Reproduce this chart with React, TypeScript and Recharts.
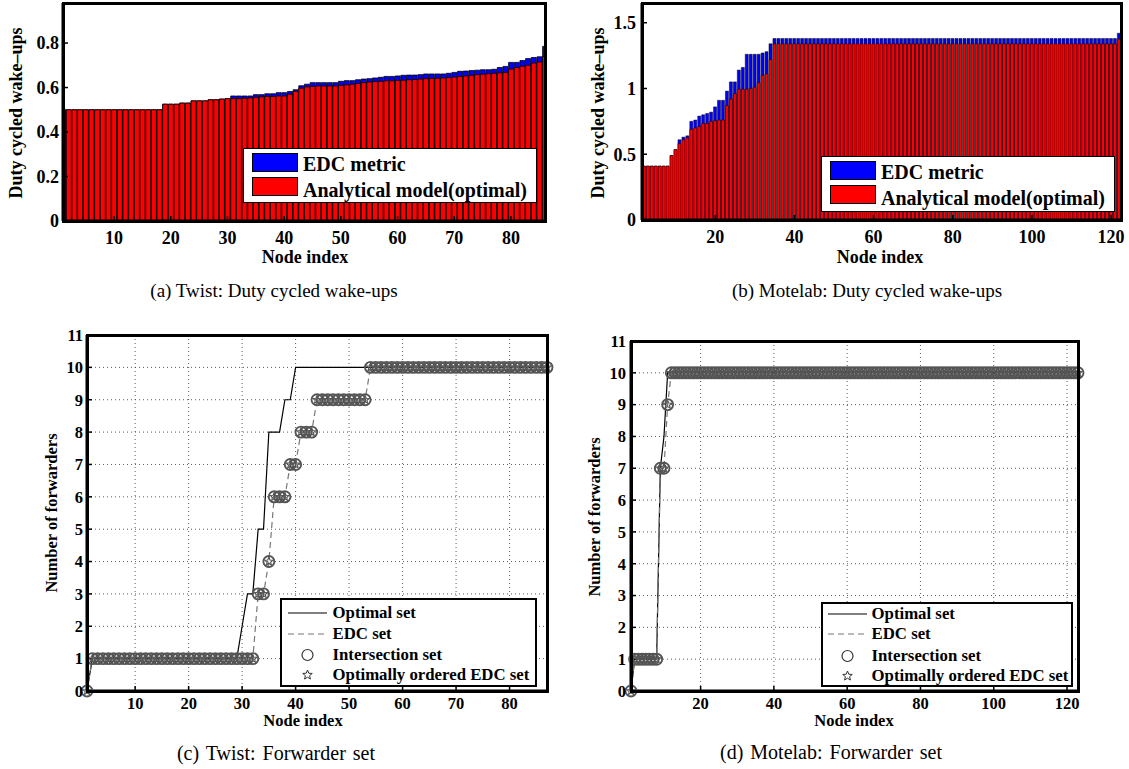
import React from 'react';
import { BarChart, Bar, XAxis, YAxis, LineChart, Line, CartesianGrid } from 'recharts';

const SERIF = '"Liberation Serif", "Times New Roman", Times, serif';

// ---------- (a) Twist: duty cycled wake-ups (node index 1..86) ----------
const twistNodes = Array.from({ length: 86 }, (_, i) => i + 1);
const twistOptWake = [
  0.5, 0.5, 0.5, 0.5, 0.5, 0.5, 0.5, 0.5, 0.5, 0.5, 0.5, 0.5, 0.5, 0.5, 0.5, 0.5, 0.5, 0.5,
  0.525, 0.525, 0.525, 0.53, 0.53, 0.54, 0.54, 0.54, 0.545, 0.545,
  0.548, 0.55, 0.55, 0.55, 0.552, 0.553, 0.556, 0.558, 0.56, 0.56,
  0.562, 0.562, 0.57, 0.583, 0.597, 0.603, 0.605, 0.607, 0.607, 0.607,
  0.607, 0.61, 0.612, 0.615, 0.618, 0.622, 0.625, 0.627, 0.628, 0.63,
  0.63, 0.632, 0.633, 0.635, 0.636, 0.638, 0.64, 0.641, 0.642, 0.643,
  0.645, 0.647, 0.65, 0.652, 0.655, 0.658, 0.66, 0.662, 0.664, 0.666,
  0.668, 0.683, 0.69, 0.696, 0.7, 0.71, 0.715, 0.74,
];
const twistEdcWake = [
  0.5, 0.5, 0.5, 0.5, 0.5, 0.5, 0.5, 0.5, 0.5, 0.5, 0.5, 0.5, 0.5, 0.5, 0.5, 0.5, 0.5, 0.5,
  0.525, 0.525, 0.525, 0.53, 0.53, 0.54, 0.54, 0.54, 0.545, 0.545,
  0.548, 0.55, 0.562, 0.562, 0.562, 0.562, 0.568, 0.568, 0.572, 0.572,
  0.577, 0.577, 0.582, 0.59, 0.608, 0.615, 0.622, 0.622, 0.622, 0.622,
  0.622, 0.628, 0.631, 0.631, 0.635, 0.638, 0.64, 0.643, 0.646, 0.65,
  0.65, 0.652, 0.655, 0.656, 0.656, 0.658, 0.661, 0.661, 0.661, 0.661,
  0.664, 0.668, 0.673, 0.674, 0.676, 0.678, 0.68, 0.68, 0.682, 0.69,
  0.695, 0.713, 0.713, 0.721, 0.73, 0.735, 0.738, 0.785,
];
const twistWakeXTicks = [10, 20, 30, 40, 50, 60, 70, 80];
const twistWakeYTicks = [0, 0.2, 0.4, 0.6, 0.8];

// ---------- (b) Motelab: duty cycled wake-ups (node index 2..122) ----------
const motelabNodes = Array.from({ length: 121 }, (_, i) => i + 2);
const motelabOptWake = [
  0.41, 0.41, 0.41, 0.41, 0.41, 0.41, 0.41,
  0.49, 0.535, 0.58, 0.61, 0.625, 0.69, 0.7, 0.71, 0.735, 0.735,
  0.75, 0.755, 0.76, 0.76, 0.87, 0.92, 0.96, 0.995, 0.995, 0.995,
  1.0, 1.01, 1.045, 1.1, 1.11, 1.22,
  1.34, 1.34, 1.34, 1.34, 1.34, 1.34, 1.34, 1.34, 1.34, 1.34,
  1.34, 1.34, 1.34, 1.34, 1.34, 1.34, 1.34, 1.34, 1.34, 1.34,
  1.34, 1.34, 1.34, 1.34, 1.34, 1.34, 1.34, 1.34, 1.34, 1.34,
  1.34, 1.34, 1.34, 1.34, 1.34, 1.34, 1.34, 1.34, 1.34, 1.34,
  1.34, 1.34, 1.34, 1.34, 1.34, 1.34, 1.34, 1.34, 1.34, 1.34,
  1.34, 1.34, 1.34, 1.34, 1.34, 1.34, 1.34, 1.34, 1.34, 1.34,
  1.34, 1.34, 1.34, 1.34, 1.34, 1.34, 1.34, 1.34, 1.34, 1.34,
  1.34, 1.34, 1.34, 1.34, 1.34, 1.34, 1.34, 1.34, 1.34, 1.34,
  1.34, 1.34, 1.34, 1.34, 1.34, 1.34, 1.34,
  1.375,
];
const motelabEdcWake = [
  0.41, 0.41, 0.41, 0.41, 0.41, 0.41, 0.41,
  0.49, 0.535, 0.61, 0.63, 0.64, 0.75, 0.76, 0.79, 0.8, 0.81,
  0.82, 0.86, 0.91, 0.91, 0.98, 1.05, 1.05, 1.14, 1.16, 1.26,
  1.26, 1.26, 1.26, 1.27, 1.28, 1.34,
  1.38, 1.38, 1.38, 1.38, 1.38, 1.38, 1.38, 1.38, 1.38, 1.38,
  1.38, 1.38, 1.38, 1.38, 1.38, 1.38, 1.38, 1.38, 1.38, 1.38,
  1.38, 1.38, 1.38, 1.38, 1.38, 1.38, 1.38, 1.38, 1.38, 1.38,
  1.38, 1.38, 1.38, 1.38, 1.38, 1.38, 1.38, 1.38, 1.38, 1.38,
  1.38, 1.38, 1.38, 1.38, 1.38, 1.38, 1.38, 1.38, 1.38, 1.38,
  1.38, 1.38, 1.38, 1.38, 1.38, 1.38, 1.38, 1.38, 1.38, 1.38,
  1.38, 1.38, 1.38, 1.38, 1.38, 1.38, 1.38, 1.38, 1.38, 1.38,
  1.38, 1.38, 1.38, 1.38, 1.38, 1.38, 1.38, 1.38, 1.38, 1.38,
  1.38, 1.38, 1.38, 1.38, 1.38, 1.38, 1.38,
  1.42,
];
const motelabWakeXTicks = [20, 40, 60, 80, 100, 120];
const motelabWakeYTicks = [0, 0.5, 1, 1.5];

// ---------- (c) Twist: forwarder set (node index 1..87) ----------
const twistFwdNodes = Array.from({ length: 87 }, (_, i) => i + 1);
const twistOptimalSet = [
  0,
  1, 1, 1, 1, 1, 1, 1, 1, 1, 1,
  1, 1, 1, 1, 1, 1, 1, 1, 1, 1,
  1, 1, 1, 1, 1, 1, 1, 1,
  2, 3, 3, 5, 5, 8, 8, 8, 9, 9,
  10, 10, 10, 10, 10, 10, 10, 10, 10, 10, 10, 10,
  10, 10, 10, 10, 10, 10, 10, 10, 10, 10, 10, 10,
  10, 10, 10, 10, 10, 10, 10, 10, 10, 10, 10, 10,
  10, 10, 10, 10, 10, 10, 10, 10, 10, 10, 10, 10,
];
const twistEdcSet = [
  0,
  1, 1, 1, 1, 1, 1, 1, 1, 1, 1,
  1, 1, 1, 1, 1, 1, 1, 1, 1, 1,
  1, 1, 1, 1, 1, 1, 1, 1, 1, 1,
  1,
  3, 3, 4, 6, 6, 6, 7, 7, 8, 8, 8,
  9, 9, 9, 9, 9, 9, 9, 9, 9, 9,
  10, 10, 10, 10, 10, 10, 10, 10, 10, 10,
  10, 10, 10, 10, 10, 10, 10, 10, 10, 10,
  10, 10, 10, 10, 10, 10, 10, 10, 10, 10,
  10, 10, 10, 10,
];
const twistIntersectionSet = twistEdcSet;
const twistOrderedEdcSet = twistEdcSet;
const twistFwdXTicks = [10, 20, 30, 40, 50, 60, 70, 80];

// ---------- (d) Motelab: forwarder set (node index 1..123) ----------
const motelabFwdNodes = Array.from({ length: 123 }, (_, i) => i + 1);
const motelabOptimalSet = [
  0, 1, 1, 1, 1, 1, 1, 1, 7, 8,
  10, 10, 10, 10, 10, 10, 10, 10, 10, 10,
  10, 10, 10, 10, 10, 10, 10, 10, 10, 10,
  10, 10, 10, 10, 10, 10, 10, 10, 10, 10,
  10, 10, 10, 10, 10, 10, 10, 10, 10, 10,
  10, 10, 10, 10, 10, 10, 10, 10, 10, 10,
  10, 10, 10, 10, 10, 10, 10, 10, 10, 10,
  10, 10, 10, 10, 10, 10, 10, 10, 10, 10,
  10, 10, 10, 10, 10, 10, 10, 10, 10, 10,
  10, 10, 10, 10, 10, 10, 10, 10, 10, 10,
  10, 10, 10, 10, 10, 10, 10, 10, 10, 10,
  10, 10, 10, 10, 10, 10, 10, 10, 10, 10,
  10, 10, 10,
];
const motelabEdcSet = [
  0, 1, 1, 1, 1, 1, 1, 1, 7, 7,
  9, 10, 10, 10, 10, 10, 10, 10, 10, 10,
  10, 10, 10, 10, 10, 10, 10, 10, 10, 10,
  10, 10, 10, 10, 10, 10, 10, 10, 10, 10,
  10, 10, 10, 10, 10, 10, 10, 10, 10, 10,
  10, 10, 10, 10, 10, 10, 10, 10, 10, 10,
  10, 10, 10, 10, 10, 10, 10, 10, 10, 10,
  10, 10, 10, 10, 10, 10, 10, 10, 10, 10,
  10, 10, 10, 10, 10, 10, 10, 10, 10, 10,
  10, 10, 10, 10, 10, 10, 10, 10, 10, 10,
  10, 10, 10, 10, 10, 10, 10, 10, 10, 10,
  10, 10, 10, 10, 10, 10, 10, 10, 10, 10,
  10, 10, 10,
];
const motelabIntersectionSet = motelabEdcSet;
const motelabOrderedEdcSet = motelabEdcSet;
const motelabFwdXTicks = [20, 40, 60, 80, 100, 120];
const fwdYTicks = [0, 1, 2, 3, 4, 5, 6, 7, 8, 9, 10, 11];

// ---------- tables ----------
const twistWakeRows = twistNodes.map((x, i) => ({ x, edc: twistEdcWake[i], opt: twistOptWake[i] }));
const motelabWakeRows = motelabNodes.map((x, i) => ({ x, edc: motelabEdcWake[i], opt: motelabOptWake[i] }));
const twistFwdRows = twistFwdNodes.map((x, i) => ({
  x,
  opt: twistOptimalSet[i],
  edc: twistEdcSet[i],
  inter: twistIntersectionSet[i],
  ordered: twistOrderedEdcSet[i],
}));
const motelabFwdRows = motelabFwdNodes.map((x, i) => ({
  x,
  opt: motelabOptimalSet[i],
  edc: motelabEdcSet[i],
  inter: motelabIntersectionSet[i],
  ordered: motelabOrderedEdcSet[i],
}));

// ---------- helpers ----------
const frameLine = { stroke: '#000', strokeWidth: 3 };
const tickLineStyle = { stroke: '#000', strokeWidth: 1.5 };
const MARK = '#555';

function starPath(cx: number, cy: number, R: number, r: number) {
  let d = '';
  for (let k = 0; k < 10; k++) {
    const a = -Math.PI / 2 + (k * Math.PI) / 5;
    const rad = k % 2 === 0 ? R : r;
    d += (k === 0 ? 'M' : 'L') + (cx + rad * Math.cos(a)).toFixed(2) + ',' + (cy + rad * Math.sin(a)).toFixed(2);
  }
  return d + 'Z';
}

const CircleDot = (p: any) => {
  const key = 'c' + p.index;
  if (p.cx == null || p.cy == null) return <g key={key} />;
  return <circle key={key} cx={p.cx} cy={p.cy} r={5.5} fill="none" stroke={MARK} strokeWidth={1.9} />;
};
const StarDot = (p: any) => {
  const key = 's' + p.index;
  if (p.cx == null || p.cy == null) return <g key={key} />;
  return <path key={key} d={starPath(p.cx, p.cy, 4.3, 1.9)} fill="none" stroke={MARK} strokeWidth={1.1} />;
};

const Txt = ({ x, y, size, bold, rotate, spacing, children }: any) => (
  <div
    style={{
      position: 'absolute',
      left: x,
      top: y,
      transform: `translate(-50%, -50%)${rotate ? ' rotate(-90deg)' : ''}`,
      fontFamily: SERIF,
      fontSize: size,
      fontWeight: bold ? 700 : 400,
      whiteSpace: 'pre',
      wordSpacing: spacing || 0,
      lineHeight: 1,
      color: '#000',
    }}
  >
    {children}
  </div>
);

const Frame = ({ l, t, r, b }: any) => (
  <div
    style={{
      position: 'absolute',
      left: l - 1.5,
      top: t - 1.5,
      width: r - l + 3,
      height: b - t + 3,
      border: '3px solid #000',
      boxSizing: 'border-box',
      pointerEvents: 'none',
    }}
  />
);

function BarPanel({ left, top, w, h, margin, data, xDomain, xTicks, yDomain, yTicks, yTickMargin, xTickMargin, barStroke }: any) {
  const tickStyle = { fontFamily: SERIF, fontWeight: 700, fontSize: 18, fill: '#000' };
  return (
    <div style={{ position: 'absolute', left, top, width: w, height: h }}>
      <BarChart width={w} height={h} data={data} margin={margin} barCategoryGap="8%" barGap={0}>
        <XAxis
          dataKey="x"
          type="number"
          domain={xDomain}
          ticks={xTicks}
          allowDataOverflow
          interval={0}
          height={30}
          axisLine={frameLine}
          tickLine={tickLineStyle}
          tickSize={-5}
          tickMargin={xTickMargin}
          tick={tickStyle}
        />
        <XAxis
          xAxisId="top"
          dataKey="x"
          type="number"
          orientation="top"
          domain={xDomain}
          ticks={xTicks}
          allowDataOverflow
          interval={0}
          height={0}
          axisLine={frameLine}
          tickLine={tickLineStyle}
          tickSize={-5}
          tick={false}
        />
        <YAxis
          type="number"
          domain={yDomain}
          ticks={yTicks}
          allowDataOverflow
          interval={0}
          width={50}
          axisLine={frameLine}
          tickLine={tickLineStyle}
          tickSize={-5}
          tickMargin={yTickMargin}
          tick={tickStyle}
        />
        <YAxis
          yAxisId="right"
          type="number"
          orientation="right"
          domain={yDomain}
          ticks={yTicks}
          allowDataOverflow
          interval={0}
          width={0}
          axisLine={frameLine}
          tickLine={tickLineStyle}
          tickSize={-5}
          tick={false}
        />
        <Bar dataKey="edc" fill="#0000ff" stroke="#000" strokeWidth={barStroke} isAnimationActive={false} />
        <Bar dataKey="opt" xAxisId="top" fill="#ff0000" stroke="#000" strokeWidth={barStroke} isAnimationActive={false} />
      </BarChart>
    </div>
  );
}

function LinePanel({ left, top, w, h, margin, data, xDomain, xTicks, yTickMargin, xTickMargin }: any) {
  const tickStyle = { fontFamily: SERIF, fontWeight: 700, fontSize: 16.5, fill: '#000' };
  return (
    <div style={{ position: 'absolute', left, top, width: w, height: h }}>
      <LineChart width={w} height={h} data={data} margin={margin}>
        <CartesianGrid stroke="#333" strokeWidth={0.8} strokeDasharray="1 3" />
        <XAxis
          dataKey="x"
          type="number"
          domain={xDomain}
          ticks={xTicks}
          interval={0}
          height={30}
          axisLine={frameLine}
          tickLine={tickLineStyle}
          tickSize={-5}
          tickMargin={xTickMargin}
          tick={tickStyle}
        />
        <XAxis
          xAxisId="top"
          dataKey="x"
          type="number"
          orientation="top"
          domain={xDomain}
          ticks={xTicks}
          allowDataOverflow
          interval={0}
          height={0}
          axisLine={frameLine}
          tickLine={tickLineStyle}
          tickSize={-5}
          tick={false}
        />
        <YAxis
          type="number"
          domain={[0, 11]}
          ticks={fwdYTicks}
          interval={0}
          width={40}
          axisLine={frameLine}
          tickLine={tickLineStyle}
          tickSize={-5}
          tickMargin={yTickMargin}
          tick={tickStyle}
        />
        <YAxis
          yAxisId="right"
          type="number"
          orientation="right"
          domain={[0, 11]}
          ticks={fwdYTicks}
          allowDataOverflow
          interval={0}
          width={0}
          axisLine={frameLine}
          tickLine={tickLineStyle}
          tickSize={-5}
          tick={false}
        />
        <Line dataKey="opt" type="linear" stroke="#000" strokeWidth={1.2} dot={false} isAnimationActive={false} />
        <Line dataKey="edc" type="linear" stroke="#777" strokeWidth={1.2} strokeDasharray="6 4" dot={false} isAnimationActive={false} />
        <Line dataKey="inter" type="linear" stroke="none" dot={CircleDot} activeDot={false} isAnimationActive={false} />
        <Line dataKey="ordered" type="linear" stroke="none" dot={StarDot} activeDot={false} isAnimationActive={false} />
      </LineChart>
    </div>
  );
}

function BarLegend({ left, top, w, h }: any) {
  const sw = (y: number, color: string) => (
    <div style={{ position: 'absolute', left: 8, top: y, width: 46, height: 19, background: color, border: '1px solid #000', boxSizing: 'border-box' }} />
  );
  const lbl = (y: number, t: string) => (
    <div style={{ position: 'absolute', left: 59, top: y - 11, fontFamily: SERIF, fontWeight: 700, fontSize: 20, lineHeight: '22px', whiteSpace: 'nowrap' }}>{t}</div>
  );
  return (
    <div style={{ position: 'absolute', left, top, width: w, height: h, background: '#fff', border: '1.5px solid #000', boxSizing: 'border-box' }}>
      {sw(4, '#0000ff')}
      {sw(28, '#ff0000')}
      {lbl(15, 'EDC metric')}
      {lbl(41, 'Analytical model(optimal)')}
    </div>
  );
}

function LineLegend({ left, top, w, h, rows, iconLeft, textLeft }: any) {
  const labels = ['Optimal set', 'EDC set', 'Intersection set', 'Optimally ordered EDC set'];
  return (
    <div style={{ position: 'absolute', left, top, width: w, height: h, background: '#fff', border: '2.5px solid #000', boxSizing: 'border-box' }}>
      <svg style={{ position: 'absolute', left: -2.5, top: -2.5 }} width={w} height={h}>
        <line x1={iconLeft} x2={iconLeft + 39} y1={rows[0]} y2={rows[0]} stroke="#000" strokeWidth={1.2} />
        <line x1={iconLeft} x2={iconLeft + 39} y1={rows[1]} y2={rows[1]} stroke="#777" strokeWidth={1.2} strokeDasharray="6 4" />
        <circle cx={iconLeft + 19.5} cy={rows[2]} r={5.5} fill="none" stroke="#333" strokeWidth={1.2} />
        <path d={starPath(iconLeft + 19.5, rows[3], 5, 2.2)} fill="none" stroke="#333" strokeWidth={1} />
      </svg>
      {labels.map((t, i) => (
        <div
          key={t}
          style={{
            position: 'absolute',
            left: textLeft - 2.5,
            top: rows[i] - 2.5 - 10,
            fontFamily: SERIF,
            fontWeight: 700,
            fontSize: 16.8,
            lineHeight: '20px',
            whiteSpace: 'nowrap',
          }}
        >
          {t}
        </div>
      ))}
    </div>
  );
}

export default function App() {
  return (
    <div style={{ position: 'absolute', left: 0, top: 0, width: 1129, height: 769, background: '#fff', overflow: 'hidden' }}>
      {/* (a) */}
      <BarPanel
        left={0}
        top={0}
        w={560}
        h={300}
        margin={{ top: 3, left: 13, right: 15, bottom: 49 }}
        data={twistWakeRows}
        xDomain={[1, 86]}
        xTicks={twistWakeXTicks}
        yDomain={[0, 0.98]}
        yTicks={twistWakeYTicks}
        yTickMargin={9}
        xTickMargin={15}
        barStroke={0.8}
      />
      <Frame l={63} t={3} r={545} b={221} />
      <BarLegend left={243} top={148} w={294} h={55} />
      <Txt x={16} y={113} size={18} bold rotate>Duty cycled wake–ups</Txt>
      <Txt x={305} y={257} size={18} bold>Node index</Txt>
      <Txt x={274} y={290} size={19}>(a) Twist: Duty cycled wake-ups</Txt>

      {/* (b) */}
      <BarPanel
        left={570}
        top={0}
        w={559}
        h={300}
        margin={{ top: 3, left: 22, right: 8, bottom: 50 }}
        data={motelabWakeRows}
        xDomain={[1.5, 122.5]}
        xTicks={motelabWakeXTicks}
        yDomain={[0, 1.65]}
        yTicks={motelabWakeYTicks}
        yTickMargin={11}
        xTickMargin={15}
        barStroke={0.5}
      />
      <Frame l={642} t={3} r={1121} b={220} />
      <BarLegend left={821} top={156} w={294} h={56} />
      <Txt x={598} y={113} size={18} bold rotate>Duty cycled wake–ups</Txt>
      <Txt x={880} y={257} size={18} bold>Node index</Txt>
      <Txt x={867} y={290} size={19}>(b) Motelab: Duty cycled wake-ups</Txt>

      {/* (c) */}
      <LinePanel
        left={0}
        top={320}
        w={560}
        h={420}
        margin={{ top: 15, left: 47, right: 13, bottom: 19 }}
        data={twistFwdRows}
        xDomain={[1, 87]}
        xTicks={twistFwdXTicks}
        yTickMargin={9}
        xTickMargin={11}
      />
      <Frame l={87} t={335} r={547} b={691} />
      <LineLegend left={280} top={598} w={257} h={89} rows={[15, 36, 57, 77]} iconLeft={8} textLeft={53} />
      <Txt x={52} y={513} size={16.5} bold rotate>Number of forwarders</Txt>
      <Txt x={303} y={721} size={16.5} bold>Node index</Txt>
      <Txt x={276} y={753} size={20} spacing={2}>(c) Twist: Forwarder set</Txt>

      {/* (d) */}
      <LinePanel
        left={570}
        top={320}
        w={559}
        h={420}
        margin={{ top: 21, left: 21, right: 51, bottom: 19 }}
        data={motelabFwdRows}
        xDomain={[1, 123]}
        xTicks={motelabFwdXTicks}
        yTickMargin={10}
        xTickMargin={11}
      />
      <Frame l={631} t={341} r={1078} b={691} />
      <LineLegend left={821} top={602} w={252} h={85} rows={[12, 32, 54, 74]} iconLeft={7} textLeft={51} />
      <Txt x={595} y={517} size={16.5} bold rotate>Number of forwarders</Txt>
      <Txt x={854} y={721} size={16.5} bold>Node index</Txt>
      <Txt x={831} y={752} size={20} spacing={2}>(d) Motelab: Forwarder set</Txt>
    </div>
  );
}
